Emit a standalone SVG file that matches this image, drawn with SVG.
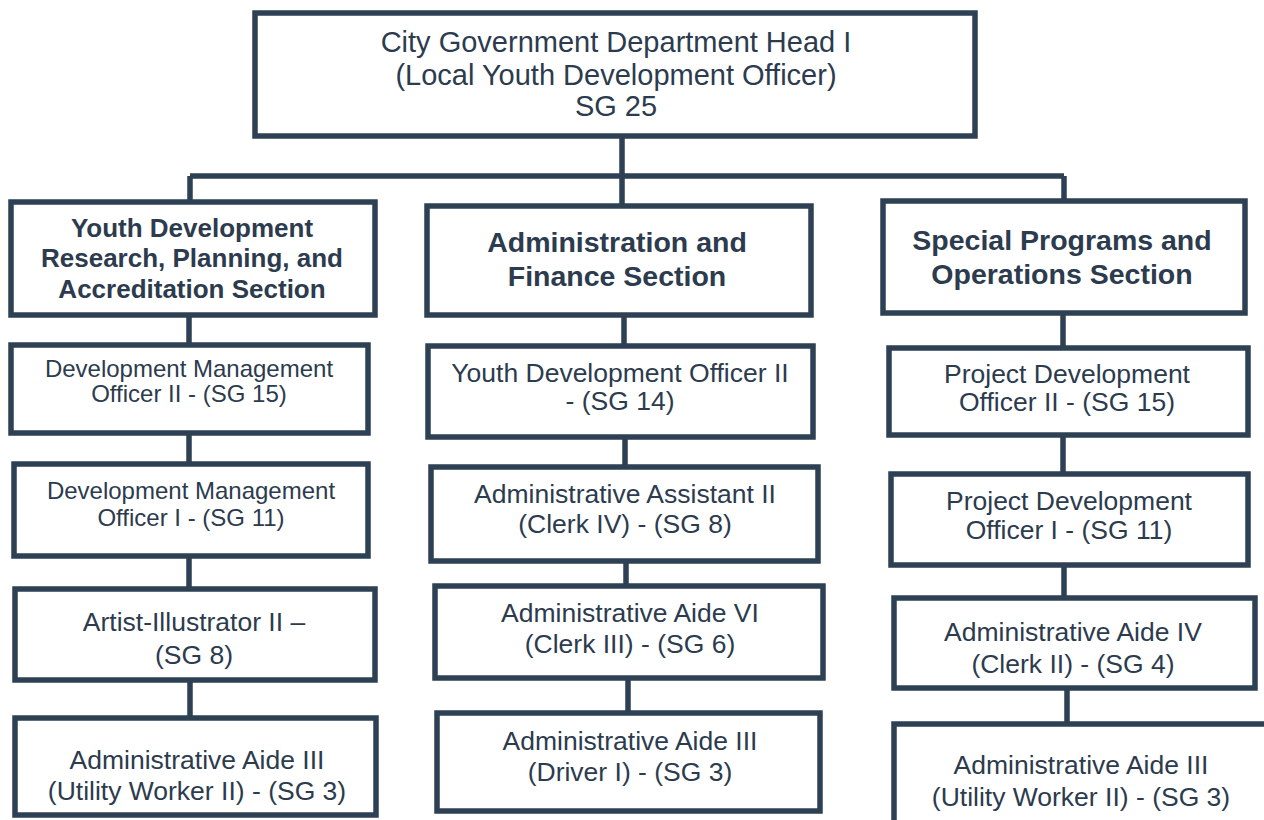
<svg xmlns="http://www.w3.org/2000/svg" width="1264" height="820" viewBox="0 0 1264 820">
<style>
.box{fill:#ffffff;stroke:#2e4053;stroke-width:5.5}
.ln{fill:none;stroke:#2e4053;stroke-width:5.5}
text{font-family:"Liberation Sans",Arial,sans-serif;fill:#2c3b4e;text-anchor:middle}
.t0{font-size:29px}
.hb{font-size:28.5px;font-weight:bold}
.hl{font-size:26px;font-weight:bold}
.r{font-size:26.5px}
.s{font-size:24px}
</style>
<rect width="1264" height="820" fill="#ffffff"/>
<g id="connectors">
<path class="ln" d="M622 136 V176 M190 176 H1064 M190 176 V202 M622 176 V206 M1064 176 V201"/>
<path class="ln" d="M189 315 V345 M189 433 V464 M189 556 V589 M190 680 V718"/>
<path class="ln" d="M624 315 V346 M625 437 V467 M626 561 V586 M628 678 V713"/>
<path class="ln" d="M1063 313 V348 M1063 435 V474 M1064 565 V598 M1067 688 V724"/>
</g>
<g id="head">
<rect class="box" x="255" y="13" width="720" height="123"/>
<text class="t0" x="616" y="52">City Government Department Head I</text>
<text class="t0" x="616" y="85">(Local Youth Development Officer)</text>
<text class="t0" x="616" y="116">SG 25</text>
</g>
<g id="sec-left">
<rect class="box" x="11" y="202" width="364" height="113"/>
<text class="hl" x="192" y="237">Youth Development</text>
<text class="hl" x="192" y="267">Research, Planning, and</text>
<text class="hl" x="192" y="298">Accreditation Section</text>
</g>
<g id="sec-mid">
<rect class="box" x="427" y="206" width="384" height="109"/>
<text class="hb" x="617" y="252">Administration and</text>
<text class="hb" x="617" y="286">Finance Section</text>
</g>
<g id="sec-right">
<rect class="box" x="883" y="201" width="362" height="112"/>
<text class="hb" x="1062" y="250">Special Programs and</text>
<text class="hb" x="1062" y="284">Operations Section</text>
</g>
<g id="l2">
<rect class="box" x="11" y="345" width="357" height="88"/>
<text class="s" x="189" y="377">Development Management</text>
<text class="s" x="189" y="402">Officer II - (SG 15)</text>
</g>
<g id="l3">
<rect class="box" x="14" y="464" width="354" height="92"/>
<text class="s" x="191" y="499">Development Management</text>
<text class="s" x="191" y="526">Officer I - (SG 11)</text>
</g>
<g id="l4">
<rect class="box" x="15" y="589" width="360" height="91"/>
<text class="r" x="194" y="631">Artist-Illustrator II –</text>
<text class="r" x="194" y="664">(SG 8)</text>
</g>
<g id="l5">
<rect class="box" x="15" y="718" width="361" height="97"/>
<text class="r" x="197" y="769">Administrative Aide III</text>
<text class="r" x="197" y="800">(Utility Worker II) - (SG 3)</text>
</g>
<g id="m2">
<rect class="box" x="428" y="346" width="385" height="91"/>
<text class="r" x="620" y="382">Youth Development Officer II</text>
<text class="r" x="620" y="410">- (SG 14)</text>
</g>
<g id="m3">
<rect class="box" x="431" y="467" width="387" height="94"/>
<text class="r" x="625" y="503">Administrative Assistant II</text>
<text class="r" x="625" y="533">(Clerk IV) - (SG 8)</text>
</g>
<g id="m4">
<rect class="box" x="435" y="586" width="388" height="92"/>
<text class="r" x="630" y="622">Administrative Aide VI</text>
<text class="r" x="630" y="653">(Clerk III) - (SG 6)</text>
</g>
<g id="m5">
<rect class="box" x="437" y="713" width="383" height="98"/>
<text class="r" x="630" y="750">Administrative Aide III</text>
<text class="r" x="630" y="781">(Driver I) - (SG 3)</text>
</g>
<g id="r2">
<rect class="box" x="889" y="348" width="359" height="87"/>
<text class="r" x="1067" y="383">Project Development</text>
<text class="r" x="1067" y="411">Officer II - (SG 15)</text>
</g>
<g id="r3">
<rect class="box" x="891" y="474" width="357" height="91"/>
<text class="r" x="1069" y="510">Project Development</text>
<text class="r" x="1069" y="539">Officer I - (SG 11)</text>
</g>
<g id="r4">
<rect class="box" x="894" y="598" width="361" height="90"/>
<text class="r" x="1073" y="641">Administrative Aide IV</text>
<text class="r" x="1073" y="673">(Clerk II) - (SG 4)</text>
</g>
<g id="r5">
<rect class="box" x="894" y="724" width="380" height="120"/>
<text class="r" x="1081" y="774">Administrative Aide III</text>
<text class="r" x="1081" y="806">(Utility Worker II) - (SG 3)</text>
</g>
</svg>
